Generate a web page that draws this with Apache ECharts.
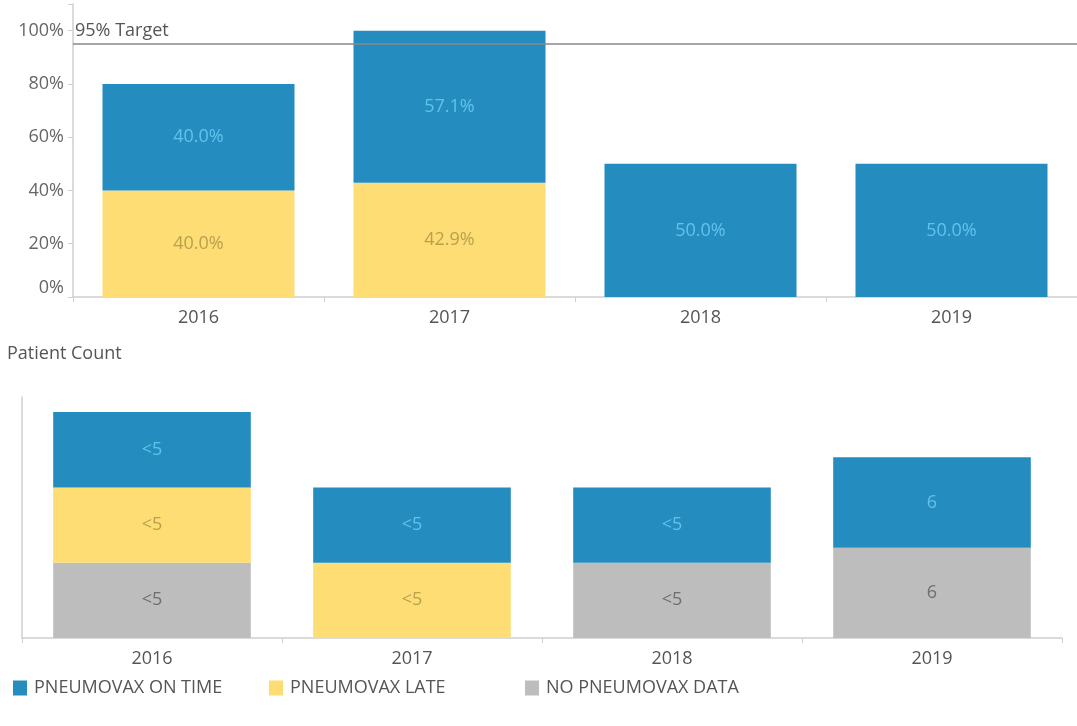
<!DOCTYPE html>
<html>
<head>
<meta charset="utf-8">
<script src="https://cdn.jsdelivr.net/npm/echarts@6/dist/echarts.min.js"></script>
<style>
  html, body { margin: 0; padding: 0; background: #fff; }
  #chart { width: 1077px; height: 726px; }
</style>
</head>
<body>
<div id="chart"></div>
<script>
const years = ["2016", "2017", "2018", "2019"];

// top: share of patients (%)
const pctLate = [40.0, 42.9, null, null];
const pctOnTime = [40.0, 57.1, 50.0, 50.0];
const targetPct = 95;
const pctTicks = [0, 20, 40, 60, 80, 100];

// bottom: patient counts (small counts are masked as "<5")
const cntNoData = [5, null, 5, 6];
const cntLate = [5, 5, null, null];
const cntOnTime = [5, 5, 5, 6];
const lblNoData = ["<5", "", "<5", "6"];
const lblLate = ["<5", "<5", "", ""];
const lblOnTime = ["<5", "<5", "<5", "6"];

const BLUE = "#248cbf";
const YELLOW = "#fddd74";
const GRAY = "#bdbdbd";
const FONT = "Open Sans";
const FS = 18;
const AXIS = "#cfcfcf";

const chart = echarts.init(document.getElementById("chart"));

function pctLabel(color) {
  return {
    show: true,
    position: "inside",
    color: color,
    fontFamily: FONT,
    fontSize: FS,
    formatter: (p) => p.value.toFixed(1) + "%",
  };
}

function cntLabel(color, texts) {
  return {
    show: true,
    position: "inside",
    color: color,
    fontFamily: FONT,
    fontSize: FS,
    formatter: (p) => texts[p.dataIndex],
  };
}

function xAxisFor(gridIndex) {
  return {
    type: "category",
    gridIndex: gridIndex,
    data: years,
    axisLine: { lineStyle: { color: AXIS, width: 1.5 } },
    axisTick: { show: true, length: 5, lineStyle: { color: AXIS } },
    axisLabel: { color: "#555", fontFamily: FONT, fontSize: FS, margin: 12 },
  };
}

const legendItems = [
  { name: "PNEUMOVAX ON TIME", left: 8 },
  { name: "PNEUMOVAX LATE", left: 264 },
  { name: "NO PNEUMOVAX DATA", left: 520 },
];

chart.setOption({
  animation: false,
  color: [BLUE, YELLOW, GRAY],
  textStyle: { fontFamily: FONT },
  title: {
    text: "Patient Count",
    left: 2,
    top: 340,
    textStyle: { color: "#555", fontSize: FS, fontWeight: "normal", fontFamily: FONT },
  },
  legend: legendItems.map((it) => ({
    data: [it.name],
    left: it.left,
    top: 674,
    icon: "rect",
    itemWidth: 14,
    itemHeight: 15,
    itemGap: 0,
    selectedMode: false,
    textStyle: { color: "#555", fontSize: FS, fontFamily: FONT, padding: [0, 0, 0, 2] },
  })),
  grid: [
    { left: 73, right: 0, top: 4, bottom: 429 },
    { left: 22, right: 15, top: 397, bottom: 88 },
  ],
  xAxis: [xAxisFor(0), xAxisFor(1)],
  yAxis: [
    {
      type: "value",
      gridIndex: 0,
      min: 0,
      max: 110,
      interval: 20,
      splitLine: { show: false },
      axisLine: { show: true, lineStyle: { color: AXIS, width: 1.5 } },
      axisTick: { show: true, length: 5, lineStyle: { color: AXIS } },
      axisLabel: {
        color: "#666",
        fontFamily: FONT,
        fontSize: FS,
        margin: 9,
        verticalAlignMinLabel: "bottom",
        formatter: (v) => (pctTicks.includes(v) ? v + "%" : ""),
      },
    },
    {
      type: "value",
      gridIndex: 1,
      min: 0,
      max: 16,
      splitLine: { show: false },
      axisLine: { show: true, lineStyle: { color: AXIS, width: 1.5 } },
      axisTick: { show: false },
      axisLabel: { show: false },
    },
  ],
  series: [
    {
      name: "PNEUMOVAX LATE",
      type: "bar",
      stack: "pct",
      xAxisIndex: 0,
      yAxisIndex: 0,
      barCategoryGap: "23.5%",
      data: pctLate,
      itemStyle: { color: YELLOW },
      label: pctLabel("#b9a04c"),
    },
    {
      name: "PNEUMOVAX ON TIME",
      type: "bar",
      stack: "pct",
      xAxisIndex: 0,
      yAxisIndex: 0,
      barCategoryGap: "23.5%",
      data: pctOnTime,
      itemStyle: { color: BLUE },
      label: pctLabel("#62c2ec"),
      markLine: {
        silent: true,
        symbol: "none",
        lineStyle: { color: "#888", width: 1.5, type: "solid" },
        label: {
          position: "insideStartTop",
          formatter: "95% Target",
          color: "#555",
          fontFamily: FONT,
          fontSize: FS,
          distance: [2, 4],
        },
        data: [{ yAxis: targetPct }],
      },
    },
    {
      name: "NO PNEUMOVAX DATA",
      type: "bar",
      stack: "cnt",
      xAxisIndex: 1,
      yAxisIndex: 1,
      barCategoryGap: "24%",
      data: cntNoData,
      itemStyle: { color: GRAY },
      label: cntLabel("#6e6e6e", lblNoData),
    },
    {
      name: "PNEUMOVAX LATE",
      type: "bar",
      stack: "cnt",
      xAxisIndex: 1,
      yAxisIndex: 1,
      barCategoryGap: "24%",
      data: cntLate,
      itemStyle: { color: YELLOW },
      label: cntLabel("#b9a04c", lblLate),
    },
    {
      name: "PNEUMOVAX ON TIME",
      type: "bar",
      stack: "cnt",
      xAxisIndex: 1,
      yAxisIndex: 1,
      barCategoryGap: "24%",
      data: cntOnTime,
      itemStyle: { color: BLUE },
      label: cntLabel("#62c2ec", lblOnTime),
    },
  ],
});
</script>
</body>
</html>
